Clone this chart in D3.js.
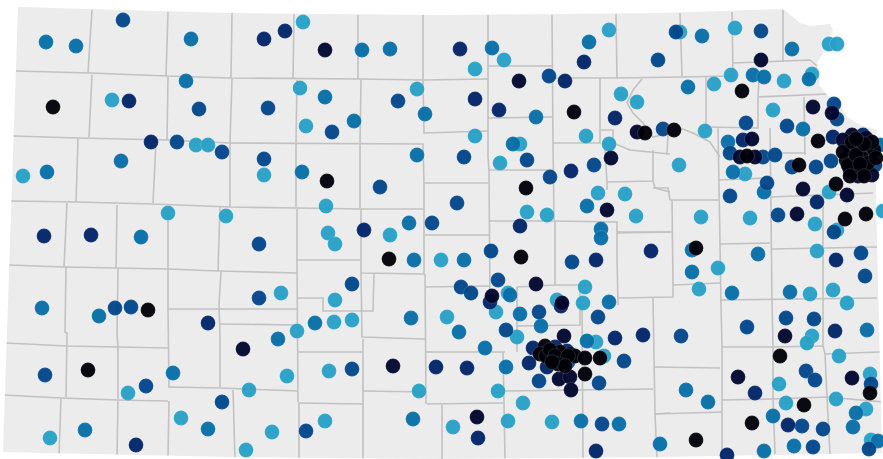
<!DOCTYPE html>
<html>
<head>
<meta charset="utf-8">
<script src="https://cdn.jsdelivr.net/npm/d3@7"></script>
<style>
  body { margin: 0; background: #fff; }
  svg { display: block; filter: blur(0.45px); }
  .state { fill: #ececec; }
  .county { fill: none; stroke: #c2c2c2; stroke-width: 1.6; }
  .site { stroke: #fff; stroke-opacity: 0.3; stroke-width: 0.5; fill-opacity: 0.96; }
</style>
</head>
<body>
<svg width="883" height="459"></svg>
<script>
"use strict";

// map grid readings, [east, south], one list per shade of dot
const level1 = [[196,145],[208,145],[112,100],[303,22],[300,88],[306,126],[417,89],[504,60],[475,69],[609,30],[621,94],[637,102],[475,136],[586,136],[520,144],[680,32],[735,28],[829,44],[837,44],[731,75],[784,81],[812,74],[714,84],[773,110],[705,131],[609,144],[500,163],[679,165],[745,174],[829,192],[701,217],[750,218],[883,211],[815,224],[837,230],[817,251],[718,268],[699,289],[810,294],[833,290],[847,303],[23,176],[168,213],[226,216],[264,175],[326,206],[328,233],[335,244],[390,235],[441,260],[281,293],[335,300],[598,193],[625,194],[636,216],[527,212],[547,215],[508,293],[585,287],[557,300],[583,303],[128,393],[181,418],[50,438],[447,317],[352,320],[334,322],[297,331],[329,371],[287,376],[249,390],[419,391],[325,421],[272,432],[246,450],[496,312],[517,337],[596,342],[604,356],[498,391],[523,403],[508,421],[552,422],[453,427],[812,336],[807,343],[839,356],[870,374],[779,384],[836,399],[786,403],[866,409],[871,440]];
const level2 = [[46,42],[76,46],[191,39],[186,81],[362,50],[390,49],[325,97],[354,121],[425,114],[417,155],[492,48],[589,42],[536,117],[513,144],[702,36],[792,49],[753,75],[764,77],[809,79],[688,87],[803,129],[728,142],[733,172],[764,192],[758,254],[692,272],[692,250],[732,293],[790,292],[47,172],[121,161],[141,237],[42,308],[99,316],[302,172],[409,223],[414,260],[587,206],[601,229],[601,238],[464,260],[510,295],[609,302],[173,373],[85,430],[208,429],[411,318],[315,323],[278,339],[413,419],[520,314],[459,332],[541,326],[485,348],[587,341],[506,367],[581,421],[619,424],[660,444],[867,330],[686,390],[708,402],[856,413],[773,416],[853,427],[764,451],[794,446],[878,441],[880,145]];
const level3 = [[123,20],[199,109],[177,142],[222,152],[268,108],[332,132],[398,101],[264,159],[549,76],[658,60],[663,129],[464,157],[676,32],[761,31],[746,123],[787,126],[730,153],[763,157],[775,155],[767,183],[730,196],[792,167],[816,167],[831,161],[778,215],[834,232],[861,253],[865,276],[837,119],[834,104],[380,187],[259,244],[432,223],[352,284],[259,298],[115,308],[131,307],[457,203],[527,160],[550,177],[594,165],[491,251],[572,262],[498,280],[461,287],[471,293],[45,375],[146,386],[222,402],[352,369],[306,431],[506,330],[539,312],[598,317],[539,381],[599,383],[602,424],[624,361],[681,336],[747,327],[786,318],[814,319],[806,371],[815,380],[871,384],[802,426],[823,429],[813,447],[869,449],[568,362],[875,165]];
const level4 = [[151,142],[129,101],[264,39],[285,31],[460,49],[584,62],[565,81],[475,99],[499,110],[615,118],[743,140],[833,137],[863,135],[817,202],[836,260],[44,236],[91,235],[364,230],[571,171],[520,226],[651,251],[596,260],[490,302],[208,323],[136,445],[436,367],[478,438],[467,368],[533,348],[529,363],[547,367],[555,347],[567,351],[561,306],[615,338],[643,335],[596,451],[835,331],[755,393],[788,425],[727,455]];
const level5 = [[325,50],[519,81],[637,132],[611,158],[761,60],[813,107],[832,113],[752,139],[740,157],[755,157],[803,189],[847,195],[797,214],[607,210],[536,284],[492,296],[562,303],[243,349],[393,366],[477,417],[564,336],[559,379],[570,377],[571,390],[570,354],[553,359],[785,336],[738,377],[852,378],[852,135],[866,138],[850,150],[866,150],[854,160],[870,158],[850,170],[866,168],[858,176],[843,140],[872,175]];
const level6 = [[53,107],[574,112],[645,133],[674,130],[742,91],[818,141],[747,156],[799,165],[836,184],[845,219],[866,214],[696,248],[148,310],[327,181],[389,259],[526,188],[521,257],[88,370],[545,346],[540,354],[546,356],[562,359],[575,356],[560,352],[585,358],[600,358],[585,374],[780,356],[870,393],[804,405],[752,423],[696,440],[858,148],[874,150],[846,160],[862,158],[858,170],[843,152],[852,142],[872,142],[550,350],[555,356],[568,356],[558,364],[565,366],[552,362],[848,165],[856,155],[864,144],[868,163],[860,164],[876,158],[856,139],[864,176],[850,176]];

const levels = [level1, level2, level3, level4, level5, level6];
const levelColors = ["#27a0c6", "#066ea8", "#014689", "#012467", "#00062e", "#000008"];

const stateOutline = [[18,7],[230,13],[440,15],[660,13],[783,9],[793,17],[800,23],[810,26],[820,25],[830,24],[833,30],[827,42],[823,53],[817,63],[820,77],[819,85],[827,95],[838,100],[842,108],[847,117],[860,125],[878,130],[875,135],[876,200],[882,453],[660,457],[440,459],[230,457],[3,452]];

const countyLines = [
  [[16,71],[90,73],[167,76],[230,78],[360,79],[423,80],[488,79]],
  [[488,66],[552,66]], [[552,78],[617,78],[682,77],[733,76]],
  [[733,63],[810,60],[817,66]], [[783,10],[783,62]], [[732,12],[733,76]], [[680,13],[682,76]],
  [[759,78],[758,97],[827,94]], [[758,97],[758,128],[707,127]], [[706,77],[706,127]], [[804,97],[805,155]],
  [[92,10],[88,73]], [[92,75],[89,137]], [[168,12],[166,76]], [[168,77],[167,140]],
  [[232,13],[231,78]], [[232,79],[230,143]], [[294,14],[293,78]], [[297,80],[296,143]],
  [[358,15],[358,79]], [[361,80],[360,143]], [[423,15],[423,80],[424,133],[488,131]],
  [[488,15],[488,157],[489,170],[553,170]], [[552,15],[553,143],[600,143],[600,78]], [[616,14],[617,78]],
  [[488,118],[552,117]],
  [[642,79],[633,90],[627,103],[633,113],[643,123],[653,137],[670,133],[680,128],[693,133],[710,142],[720,157]],
  [[668,133],[667,155]], [[600,130],[613,130],[613,143],[630,150],[670,154]],
  [[13,136],[78,138],[167,140],[230,143],[423,144],[424,183],[488,183]],
  [[296,143],[296,208]], [[230,143],[230,207]], [[360,143],[360,208]],
  [[553,143],[554,220]], [[489,170],[490,307]], [[440,235],[490,235]],
  [[490,221],[553,221],[617,222],[617,233],[670,232]],
  [[605,150],[607,182],[607,190]], [[607,182],[653,181],[653,150]], [[653,181],[655,188],[670,192]],
  [[617,233],[617,258],[618,305]], [[555,221],[555,285],[517,287]], [[555,285],[580,285],[580,305]],
  [[425,287],[490,286]], [[78,138],[76,202]], [[156,141],[153,203]],
  [[11,201],[77,202],[153,204],[230,207],[297,208],[360,209],[424,209]], [[424,183],[424,273]],
  [[67,203],[64,267]], [[117,205],[116,268]], [[168,207],[168,269]], [[220,207],[218,271]],
  [[9,265],[64,267],[116,268],[168,269],[218,271],[297,273]],
  [[297,209],[297,260],[360,260]], [[361,209],[361,273],[425,274]],
  [[425,235],[440,235]], [[425,274],[426,404]], [[374,274],[373,311],[323,311],[323,298],[297,298]],
  [[297,260],[298,402]], [[66,267],[65,332],[67,333],[66,397]], [[118,269],[117,334],[118,347],[118,399]],
  [[221,272],[219,304],[220,336],[220,387]], [[168,269],[168,309],[230,309],[297,309]], [[168,309],[169,387]],
  [[6,343],[67,346],[118,347],[168,348]], [[4,395],[61,398],[118,400],[168,401]],
  [[168,387],[220,388],[298,391]], [[61,398],[59,456]], [[118,400],[117,457]], [[169,401],[168,457]],
  [[220,324],[297,325]], [[298,352],[362,352]], [[361,273],[362,337],[425,339]], [[363,339],[363,459]],
  [[233,390],[235,459]], [[298,403],[363,404]], [[299,404],[299,459]], [[363,391],[427,392]],
  [[427,404],[503,403]], [[442,404],[442,459]], [[426,352],[505,352]], [[503,352],[504,404],[505,459]],
  [[505,391],[580,390],[653,389]], [[517,287],[517,352]], [[517,326],[580,325],[580,305]],
  [[582,304],[583,459]], [[653,298],[655,414],[670,413]], [[655,367],[720,368]], [[655,414],[722,412]],
  [[655,414],[657,459]], [[721,305],[722,347],[722,454]], [[722,347],[772,347],[823,346]],
  [[772,300],[773,346],[773,399],[775,454]], [[823,300],[823,346],[825,354],[880,352]],
  [[825,354],[827,397],[830,454]], [[722,400],[773,399],[827,397],[883,402]],
  [[718,180],[768,178]], [[718,128],[720,243],[721,305]], [[670,200],[718,200]],
  [[670,200],[668,188],[653,188]], [[672,200],[673,283],[673,297],[617,298]], [[617,232],[672,232]],
  [[673,285],[720,283]], [[720,244],[770,243]], [[770,197],[873,193]], [[770,128],[772,300]],
  [[772,249],[877,247]], [[823,195],[823,300]], [[720,300],[877,298]], [[770,153],[805,153]]
];

const svg = d3.select("svg");
const width = +svg.attr("width");
const height = +svg.attr("height");

const x = d3.scaleLinear().domain([0, 883]).range([0, width]);
const y = d3.scaleLinear().domain([0, 459]).range([0, height]);
const color = d3.scaleOrdinal().domain(d3.range(levels.length)).range(levelColors);

const line = d3.line().x(d => x(d[0])).y(d => y(d[1]));

svg
  .append("path")
  .attr("class", "state")
  .attr("d", line(stateOutline) + "Z");

const clip = svg.append("clipPath").attr("id", "state-clip");
clip.append("path").attr("d", line(stateOutline) + "Z");

svg
  .append("g")
  .attr("clip-path", "url(#state-clip)")
  .selectAll("path")
  .data(countyLines)
  .enter()
  .append("path")
  .attr("class", "county")
  .attr("d", line);

// lighter shades first so the dark dots end up on top
levels.forEach((sites, i) => {
  svg
    .append("g")
    .selectAll("circle")
    .data(sites)
    .enter()
    .append("circle")
    .attr("class", "site")
    .attr("cx", d => x(d[0]))
    .attr("cy", d => y(d[1]))
    .attr("r", 7.4)
    .attr("fill", color(i));
});
</script>
</body>
</html>
